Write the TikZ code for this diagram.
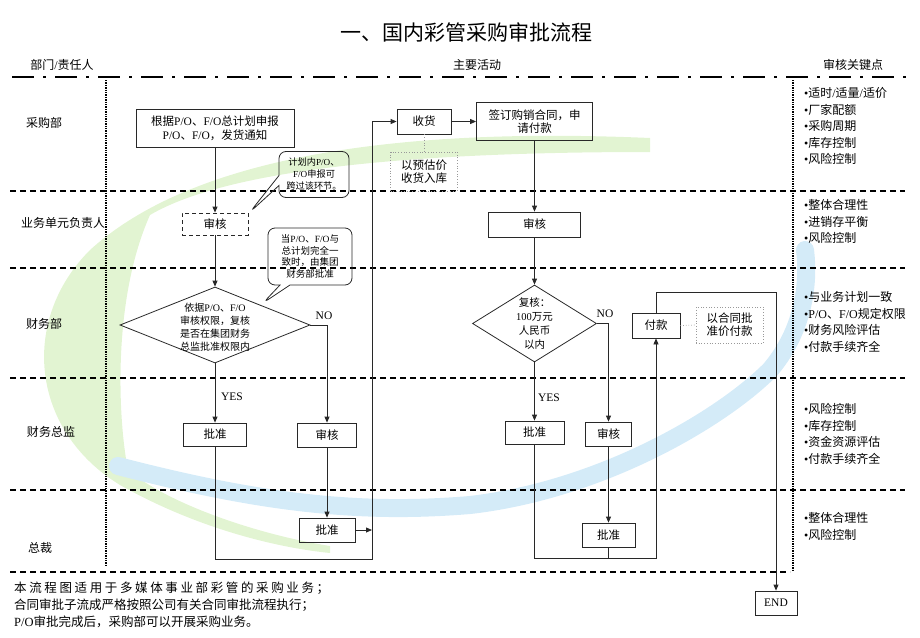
\documentclass[tikz,border=0pt]{standalone}
\usepackage{fontspec}
\setmainfont{Noto Sans CJK SC}
\newfontfamily\latf{Liberation Serif}
\newcommand\en[1]{{\latf #1}}
\newcommand\fz[2]{\fontsize{#1}{#2}\selectfont}
\usetikzlibrary{arrows.meta,shapes.geometric,shapes.callouts}
\definecolor{bandgreen}{RGB}{226,244,210}
\definecolor{bandblue}{RGB}{212,235,248}
\definecolor{ink}{RGB}{40,40,40}
\tikzset{
 box/.style={draw=ink, line width=0.8pt, inner sep=0pt, align=center, font=\fz{11.5}{14}},
 dbox/.style={box, dash pattern=on 4pt off 3pt},
 note/.style={draw=black!40, dotted, line width=0.7pt, inner sep=0pt, align=center, font=\fz{11.5}{13}},
 noteline/.style={draw=black!40, dotted, line width=0.7pt},
 conn/.style={draw=ink, line width=0.8pt},
 arr/.style={conn, -{Triangle[length=6pt,width=5pt]}},
 bubble/.style={rectangle callout, draw=ink, line width=0.8pt, rounded corners=7pt, inner sep=0pt, align=center, callout pointer width=10pt},
 diam/.style={diamond, draw=ink, line width=0.8pt, inner sep=0pt},
 lane/.style={dash pattern=on 6pt off 4pt, line width=1.1pt},
 vdot/.style={dash pattern=on 1.4pt off 1pt, line width=1.6pt},
 lbl/.style={font=\fz{12}{14}},
 kp/.style={font=\fz{12}{14}, anchor=west, inner sep=0pt},
 yn/.style={font=\latf\fz{11.5}{13}, inner sep=0pt}
}
\begin{document}
\begin{tikzpicture}[x=1pt,y=-1pt]
\useasboundingbox (0,0) rectangle (920,637);
% background swoosh
\fill[bandgreen] (650,138) .. controls (420,128) and (200,150) .. (90,250)
  .. controls (20,320) and (30,430) .. (120,485)
  .. controls (200,530) and (280,548) .. (330,553)
  -- (330,546) .. controls (260,535) and (170,505) .. (128,470)
  .. controls (118,420) and (112,300) .. (150,215)
  .. controls (230,168) and (420,152) .. (650,152) -- cycle;
\draw[bandblue, line width=18pt, line cap=round] (118,466) .. controls (250,500) and (350,515) .. (470,505)
  .. controls (600,490) and (720,420) .. (770,370) .. controls (800,335) and (810,290) .. (805,250);

% title and header
\node[font=\fz{21}{24}] (title) at (466,32) {一、国内彩管采购审批流程};
\node[lbl] (h1) at (62,65) {部门\en{/}责任人};
\node[lbl] (h2) at (477,65) {主要活动};
\node[lbl] (h3) at (853,65) {审核关键点};
\draw[dash pattern=on 22pt off 9pt on 3pt off 9pt, line width=2pt] (12,77) -- (907,77);
\draw[vdot] (106,80) -- (106,565);
\draw[vdot] (793,80) -- (793,570);
\foreach \yy in {191,268,378,490} \draw[lane] (10,\yy) -- (905,\yy);
\draw[lane] (10,572) -- (790,572);

% lane labels
\node[lbl] (l1) at (44,123) {采购部};
\node[lbl] (l2) at (63,223) {业务单元负责人};
\node[lbl] (l3) at (44,324) {财务部};
\node[lbl] (l4) at (51,432) {财务总监};
\node[lbl] (l5) at (40,548) {总裁};

% key points
\node[kp] (k11) at (804,93) {\en{•}适时\en{/}适量\en{/}适价};
\node[kp] (k12) at (804,109.5) {\en{•}厂家配额};
\node[kp] (k13) at (804,126) {\en{•}采购周期};
\node[kp] (k14) at (804,142.5) {\en{•}库存控制};
\node[kp] (k15) at (804,159) {\en{•}风险控制};
\node[kp] (k21) at (804,205) {\en{•}整体合理性};
\node[kp] (k22) at (804,221.5) {\en{•}进销存平衡};
\node[kp] (k23) at (804,238) {\en{•}风险控制};
\node[kp] (k31) at (804,297) {\en{•}与业务计划一致};
\node[kp] (k32) at (804,313.5) {\en{•P/O}、\en{F/O}规定权限};
\node[kp] (k33) at (804,330) {\en{•}财务风险评估};
\node[kp] (k34) at (804,346.5) {\en{•}付款手续齐全};
\node[kp] (k41) at (804,409) {\en{•}风险控制};
\node[kp] (k42) at (804,425.5) {\en{•}库存控制};
\node[kp] (k43) at (804,442) {\en{•}资金资源评估};
\node[kp] (k44) at (804,458.5) {\en{•}付款手续齐全};
\node[kp] (k51) at (804,518) {\en{•}整体合理性};
\node[kp] (k52) at (804,535) {\en{•}风险控制};

% left flow
\node[box, minimum width=158, minimum height=38] (boxA) at (215,128) {根据\en{P/O}、\en{F/O}总计划申报\\\en{P/O}、\en{F/O}，发货通知};
\node[dbox, minimum width=66, minimum height=22] (sh1) at (215,224) {审核};
\node[bubble, minimum width=70, minimum height=46, font=\fz{9.2}{12}, callout absolute pointer={(250,212)}] (cb1) at (314,174.5) {计划内\en{P/O}、\\\en{F/O}申报可\\跨过该环节。};
\node[diam, minimum width=190, minimum height=76] (d1) at (215,325) {};
\node[font=\fz{10}{13}, align=center, inner sep=0pt] (d1t) at (215,327) {依据\en{P/O}、\en{F/O}\\审核权限，复核\\是否在集团财务\\总监批准权限内};
\node[bubble, minimum width=84, minimum height=57, font=\fz{9.5}{11.5}, callout absolute pointer={(263,303)}] (cb2) at (310,256.5) {当\en{P/O}、\en{F/O}与\\总计划完全一\\致时，由集团\\财务部批准};
\node[box, minimum width=63, minimum height=23] (pz1) at (215,434.5) {批准};
\node[box, minimum width=59, minimum height=24] (sh2) at (327,435) {审核};
\node[box, minimum width=56, minimum height=24] (pz2) at (327,530) {批准};
\node[yn] (no1) at (324,316) {NO};
\node[yn] (yes1) at (232,397) {YES};
\coordinate (c1) at (372,559);
\coordinate (c2) at (372,121.5);

% middle flow
\node[box, minimum width=54, minimum height=25] (sg) at (424,121.5) {收货};
\node[box, minimum width=116, minimum height=38, font=\fz{11.5}{13.5}] (qd) at (534.5,121.5) {签订购销合同，申\\请付款};
\node[note, minimum width=67, minimum height=39] (yg) at (424,171.5) {以预估价\\收货入库};
\node[box, minimum width=92, minimum height=25] (sh3) at (534.5,224.5) {审核};
\node[diam, minimum width=124, minimum height=77] (d2) at (534.5,323.5) {};
\node[font=\fz{10.5}{14}, align=center, inner sep=0pt] (d2t) at (534.5,324) {复核：\\\en{100}万元\\人民币\\以内};
\node[box, minimum width=59, minimum height=23] (pz3) at (534.5,432.5) {批准};
\node[box, minimum width=46, minimum height=24] (sh4) at (608.5,434) {审核};
\node[box, minimum width=53, minimum height=24] (pz4) at (608.5,535) {批准};
\node[yn] (no2) at (605,314) {NO};
\node[yn] (yes2) at (549,398) {YES};
\node[box, minimum width=48, minimum height=25] (fk) at (656,325.5) {付款};
\node[note, minimum width=67, minimum height=36] (ht) at (729.5,325) {以合同批\\准价付款};
\node[box, minimum width=42, minimum height=24, font=\latf\fz{11.5}{13}] (end) at (776,603) {END};
\coordinate (c3) at (656,558);
\coordinate (c4) at (776,292);

% connectors
\draw[arr] (boxA.south) -- (sh1.north);
\draw[arr] (sh1.south) -- (d1.north);
\draw[arr] (d1.south) -- (pz1.north);
\draw[arr] (d1.east) -| (sh2.north);
\draw[arr] (sh2.south) -- (pz2.north);
\draw[arr] (pz1.south) |- (c1) -- (c2) -- (sg.west);
\draw[arr] (pz2.east) -- (pz2.east -| c1);
\draw[arr] (sg.east) -- (qd.west);
\draw[noteline] (sg.south) -- (yg.north);
\draw[arr] (qd.south) -- (sh3.north);
\draw[arr] (sh3.south) -- (d2.north);
\draw[arr] (d2.south) -- (pz3.north);
\draw[arr] (d2.east) -| (sh4.north);
\draw[arr] (sh4.south) -- (pz4.north);
\draw[conn] (pz4.south) -- (pz4.south |- c3);
\draw[arr] (pz3.south) |- (c3) -- (fk.south);
\draw[arr] (fk.north) |- (c4) -- (end.north);
\draw[noteline] (fk.east) -- (ht.west);

% footnote
\node[anchor=west, inner sep=0pt, font=\fz{12.5}{14}] (f1) at (14,588) {\addfontfeatures{LetterSpace=21}本流程图适用于多媒体事业部彩管的采购业务；};
\node[anchor=west, inner sep=0pt, font=\fz{12.5}{14}] (f2) at (14,605) {合同审批子流成严格按照公司有关合同审批流程执行；};
\node[anchor=west, inner sep=0pt, font=\fz{12.5}{14}] (f3) at (14,621.5) {\en{P/O}审批完成后，采购部可以开展采购业务。};
\end{tikzpicture}
\end{document}
